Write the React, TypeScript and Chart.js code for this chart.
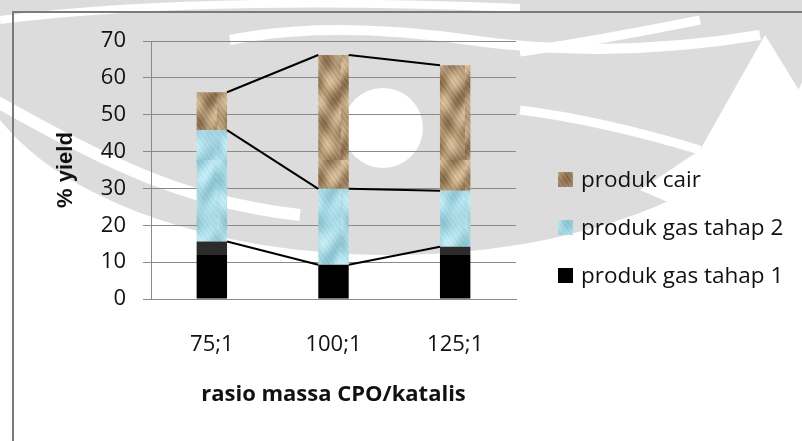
import React, { useEffect, useRef } from "react";
import { Chart, registerables } from "chart.js";

Chart.register(...registerables);

// ---- data ----
const categories = ["75;1", "100;1", "125;1"];
const gasTahap1 = [15.6, 9.3, 14.2];
const gasTahap2 = [30.2, 20.6, 15.2];
const produkCair = [10.3, 36.3, 34.0];
const yTickValues = [0, 10, 20, 30, 40, 50, 60, 70];
const seriesNames = ["produk gas tahap 1", "produk gas tahap 2", "produk cair"];
const xTitle = "rasio massa CPO/katalis";
const yTitle = "% yield";

// ---- styling ----
const GRID = "#8a8a8a";
const TICK_FONT = '"Open Sans", "Noto Sans", sans-serif';
const BLACK_BAND_FROM = 12; // lighter band on the top of the black segments

type RGB = [number, number, number];

function makeTexture(
  w: number,
  h: number,
  dark: RGB,
  light: RGB,
  phase: number
): HTMLCanvasElement {
  const c = document.createElement("canvas");
  c.width = w;
  c.height = h;
  const g = c.getContext("2d")!;
  const img = g.createImageData(w, h);
  for (let y = 0; y < h; y++) {
    for (let x = 0; x < w; x++) {
      let v =
        0.55 +
        0.2 * Math.sin(0.23 * x + 0.11 * y + phase) +
        0.17 * Math.sin(0.19 * y + 1.6 * Math.sin(0.17 * x + phase)) +
        0.08 * Math.sin(1.3 * x - 0.9 * y + phase * 2);
      v = Math.max(0, Math.min(1, v));
      const i = (y * w + x) * 4;
      img.data[i] = dark[0] + (light[0] - dark[0]) * v;
      img.data[i + 1] = dark[1] + (light[1] - dark[1]) * v;
      img.data[i + 2] = dark[2] + (light[2] - dark[2]) * v;
      img.data[i + 3] = 255;
    }
  }
  g.putImageData(img, 0, 0);
  return c;
}

// lines joining the tops of matching segments in neighbouring bars
const seriesLinesPlugin = {
  id: "seriesLines",
  afterDatasetsDraw(chart: any) {
    const ctx = chart.ctx as CanvasRenderingContext2D;
    ctx.save();
    ctx.strokeStyle = "#000";
    ctx.lineWidth = 2;
    chart.data.datasets.forEach((_: any, d: number) => {
      const bars = chart.getDatasetMeta(d).data;
      for (let i = 0; i < bars.length - 1; i++) {
        const a = bars[i].getProps(["x", "y", "width"], true);
        const b = bars[i + 1].getProps(["x", "y", "width"], true);
        ctx.beginPath();
        ctx.moveTo(a.x + a.width / 2, a.y);
        ctx.lineTo(b.x - b.width / 2, b.y);
        ctx.stroke();
      }
    });
    ctx.restore();
  },
};

// legend on the right, top item = last series
const sideLegendPlugin = {
  id: "sideLegend",
  afterDraw(chart: any, _args: any, opts: any) {
    const ctx = chart.ctx as CanvasRenderingContext2D;
    const sets = chart.data.datasets.slice().reverse();
    ctx.save();
    ctx.font = `22.5px ${TICK_FONT}`;
    ctx.textBaseline = "alphabetic";
    ctx.textAlign = "left";
    sets.forEach((ds: any, i: number) => {
      const top = opts.top + i * opts.step;
      ctx.fillStyle = ds.legendFill;
      ctx.fillRect(opts.x, top, opts.box, opts.box);
      ctx.fillStyle = "#111";
      ctx.fillText(ds.label, opts.x + opts.box + 8, top + opts.box);
    });
    ctx.restore();
  },
};

function Watermark() {
  const gray = "#dcdcdc";
  return (
    <svg
      width={802}
      height={441}
      style={{ position: "absolute", left: 0, top: 0 }}
    >
      <ellipse cx={390} cy={40} rx={420} ry={215} fill={gray} />
      <path
        d="M -20 92 Q 80 150 150 178 T 300 215"
        stroke="#fff"
        strokeWidth={12}
        fill="none"
      />
      <path
        d="M 230 40 Q 330 20 470 40 T 760 35"
        stroke="#fff"
        strokeWidth={10}
        fill="none"
      />
      <path
        d="M 0 20 Q 200 -5 520 8"
        stroke="#fff"
        strokeWidth={8}
        fill="none"
      />
      <path
        d="M 520 52 Q 600 40 700 20"
        stroke="#fff"
        strokeWidth={9}
        fill="none"
      />
      <ellipse cx={383} cy={128} rx={40} ry={40} fill="#fff" />
      <path
        d="M 765 35 L 700 150 L 640 190 L 802 260 L 802 95 Z"
        fill="#fff"
      />
      <path
        d="M 520 110 Q 600 120 700 150"
        stroke="#fff"
        strokeWidth={9}
        fill="none"
      />
    </svg>
  );
}

export default function App() {
  const canvasRef = useRef<HTMLCanvasElement | null>(null);

  useEffect(() => {
    document.body.style.margin = "0";
    const canvas = canvasRef.current!;
    const ctx = canvas.getContext("2d")!;

    const brown = ctx.createPattern(
      makeTexture(31, 160, [118, 88, 58], [222, 198, 160], 0.7),
      "repeat"
    )!;
    const blue = ctx.createPattern(
      makeTexture(31, 160, [128, 186, 202], [200, 240, 248], 2.1),
      "repeat"
    )!;

    const blackFill = (c: any) => {
      const chart = c.chart;
      const y = chart.scales?.y;
      if (!chart.chartArea || !y) return "#000";
      const y0 = y.getPixelForValue(0);
      const yTop = y.getPixelForValue(70);
      const g = chart.ctx.createLinearGradient(0, y0, 0, yTop);
      const f = BLACK_BAND_FROM / 70;
      g.addColorStop(0, "#000");
      g.addColorStop(f, "#000");
      g.addColorStop(f, "#2b2b2b");
      g.addColorStop(1, "#2b2b2b");
      return g;
    };

    const chart = new Chart(canvas, {
      type: "bar",
      data: {
        labels: categories,
        datasets: [
          {
            label: seriesNames[0],
            data: gasTahap1,
            backgroundColor: blackFill,
            legendFill: "#000",
          } as any,
          {
            label: seriesNames[1],
            data: gasTahap2,
            backgroundColor: blue,
            legendFill: blue,
          } as any,
          {
            label: seriesNames[2],
            data: produkCair,
            backgroundColor: brown,
            legendFill: brown,
          } as any,
        ],
      },
      options: {
        animation: false,
        responsive: true,
        maintainAspectRatio: false,
        layout: { padding: { top: 41, bottom: 12, left: 0, right: 286 } },
        datasets: {
          bar: { barPercentage: 0.25, categoryPercentage: 1, borderWidth: 0 },
        },
        plugins: {
          legend: { display: false },
          tooltip: { enabled: false },
          sideLegend: { x: 558, top: 172, step: 48, box: 15 },
        } as any,
        scales: {
          x: {
            stacked: true,
            grid: { display: false, drawTicks: false },
            border: { display: true, color: GRID, width: 1 },
            ticks: {
              padding: 33,
              color: "#111",
              font: { family: TICK_FONT, size: 22 },
            },
            title: {
              display: true,
              text: xTitle,
              color: "#111",
              font: { family: TICK_FONT, size: 22, weight: "bold" },
              padding: { top: 0, bottom: 21 },
            },
            afterFit(scale: any) {
              scale.height = 130;
            },
          },
          y: {
            stacked: true,
            min: 0,
            max: 70,
            afterBuildTicks(scale: any) {
              scale.ticks = yTickValues.map((v) => ({ value: v }));
            },
            grid: { color: GRID, lineWidth: 1, tickLength: 8, tickColor: GRID },
            border: { display: true, color: GRID, width: 1 },
            ticks: {
              padding: 17,
              color: "#111",
              font: { family: TICK_FONT, size: 22 },
            },
            title: {
              display: true,
              text: yTitle,
              color: "#111",
              font: {
                family: '"Liberation Sans", Arial, sans-serif',
                size: 22,
                weight: "bold",
              },
              padding: { top: 53, bottom: 0 },
            },
            afterFit(scale: any) {
              scale.width = 151;
            },
          },
        },
      },
      plugins: [seriesLinesPlugin, sideLegendPlugin],
    });

    return () => chart.destroy();
  }, []);

  return (
    <div
      style={{
        position: "relative",
        width: 802,
        height: 441,
        background: "#fff",
        overflow: "hidden",
      }}
    >
      <Watermark />
      <div
        style={{
          position: "absolute",
          left: 12,
          top: 11,
          width: 820,
          height: 460,
          borderLeft: "2px solid #7a7a7a",
          borderTop: "2px solid #7a7a7a",
        }}
      />
      <div style={{ position: "absolute", left: 0, top: 0, width: 802, height: 441 }}>
        <canvas ref={canvasRef} />
      </div>
    </div>
  );
}
